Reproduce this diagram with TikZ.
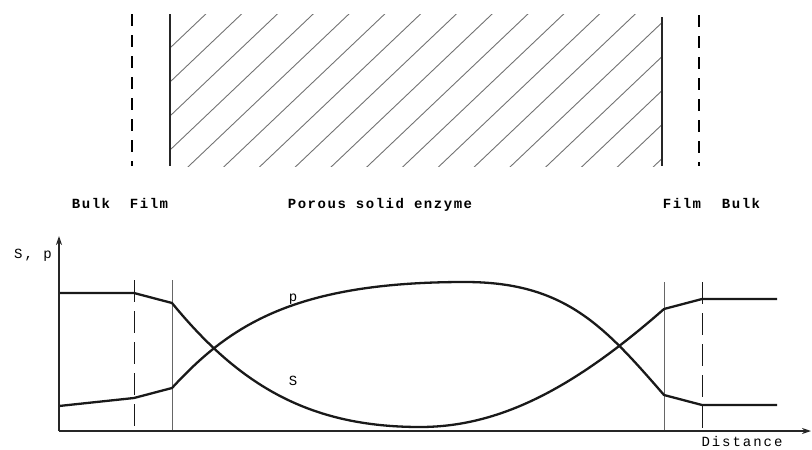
\documentclass[tikz,border=0pt]{standalone}
\usepackage{fontspec}
\usetikzlibrary{arrows.meta}
\newfontfamily\labfont[LetterSpace=11]{Liberation Mono}
\newfontfamily\axfont[LetterSpace=14]{Liberation Mono}
\begin{document}
\begin{tikzpicture}[x=1pt,y=-1pt,
  hatch/.style={draw=black!55,line width=0.9pt},
  wall/.style={draw=black!85,line width=1.3pt},
  topdash/.style={draw=black,line width=1.2pt,dash pattern=on 12pt off 9pt},
  plotdash/.style={draw=black!90,line width=1pt,dash pattern=on 22pt off 9pt},
  plotthin/.style={draw=black!60,line width=0.9pt},
  axis/.style={draw=black!85,line width=1.2pt,-{Stealth[length=9pt,width=6pt]}},
  curve/.style={draw=black!90,line width=2.3pt,line join=round},
  zonelab/.style={font=\labfont\bfseries\fontsize{14}{14}\selectfont,inner sep=0pt,anchor=base},
  axlab/.style={font=\axfont\fontsize{14}{14}\selectfont,inner sep=0pt,anchor=base},
  curvelab/.style={font=\axfont\fontsize{14}{14}\selectfont,inner sep=0pt,anchor=base}]
\useasboundingbox (0,0) rectangle (812,450);

% ---- top: membrane sketch ----
\begin{scope}
  \clip (170,14) rectangle (662,166);
  \foreach \i in {0,...,18}{
    \pgfmathsetmacro{\yo}{48+34*\i}
    \draw[hatch] (120,\yo+47.5) -- (800,\yo-598.5);
  }
\end{scope}
\coordinate (lwT) at (170,14);  \coordinate (lwB) at (170,166);
\coordinate (rwT) at (662,17);  \coordinate (rwB) at (662,166);
\coordinate (ldT) at (132,14);  \coordinate (ldB) at (132,166);
\coordinate (rdT) at (699,15);  \coordinate (rdB) at (699,166);
\draw[wall] (lwT) -- (lwB);
\draw[wall] (rwT) -- (rwB);
\draw[topdash] (ldT) -- (ldB);
\draw[topdash] (rdT) -- (rdB);

% ---- zone labels ----
\node[zonelab] (bulkL) at (91,208) {Bulk};
\node[zonelab] (filmL) at (149,208) {Film};
\node[zonelab] (pse) at (380,208) {Porous solid enzyme};
\node[zonelab] (filmR) at (682,208) {Film};
\node[zonelab] (bulkR) at (741,208) {Bulk};

% ---- plot ----
\coordinate (O) at (59,431);
\coordinate (Ytip) at (59,236);
\coordinate (Xtip) at (811,431);
\draw[plotdash] (134,280) -- (134,431);
\draw[plotthin] (172,280) -- (172,431);
\draw[plotthin] (664,282) -- (664,431);
\draw[plotdash] (702,282) -- (702,431);

% substrate S
\draw[curve] (59,293) -- (134,293) -- (172,303)
  .. controls (240,386) and (310,427) .. (420,427)
  .. controls (500,427) and (574,388) .. (664,309)
  -- (702,299) -- (777,299);
% product p
\draw[curve] (59,406) -- (134,398) -- (172,388)
  .. controls (230,325) and (295,282) .. (465,282)
  .. controls (565,282) and (604,326) .. (664,395)
  -- (702,405) -- (777,405);

\draw[axis] (O) -- (Ytip);
\draw[axis] (O) -- (Xtip);

\node[axlab] (sp) at (33,258) {S, p};
\node[axlab] (dist) at (742,446) {Distance};
\node[curvelab] (plab) at (293,301) {p};
\node[curvelab] (slab) at (293,385) {S};
\end{tikzpicture}
\end{document}
